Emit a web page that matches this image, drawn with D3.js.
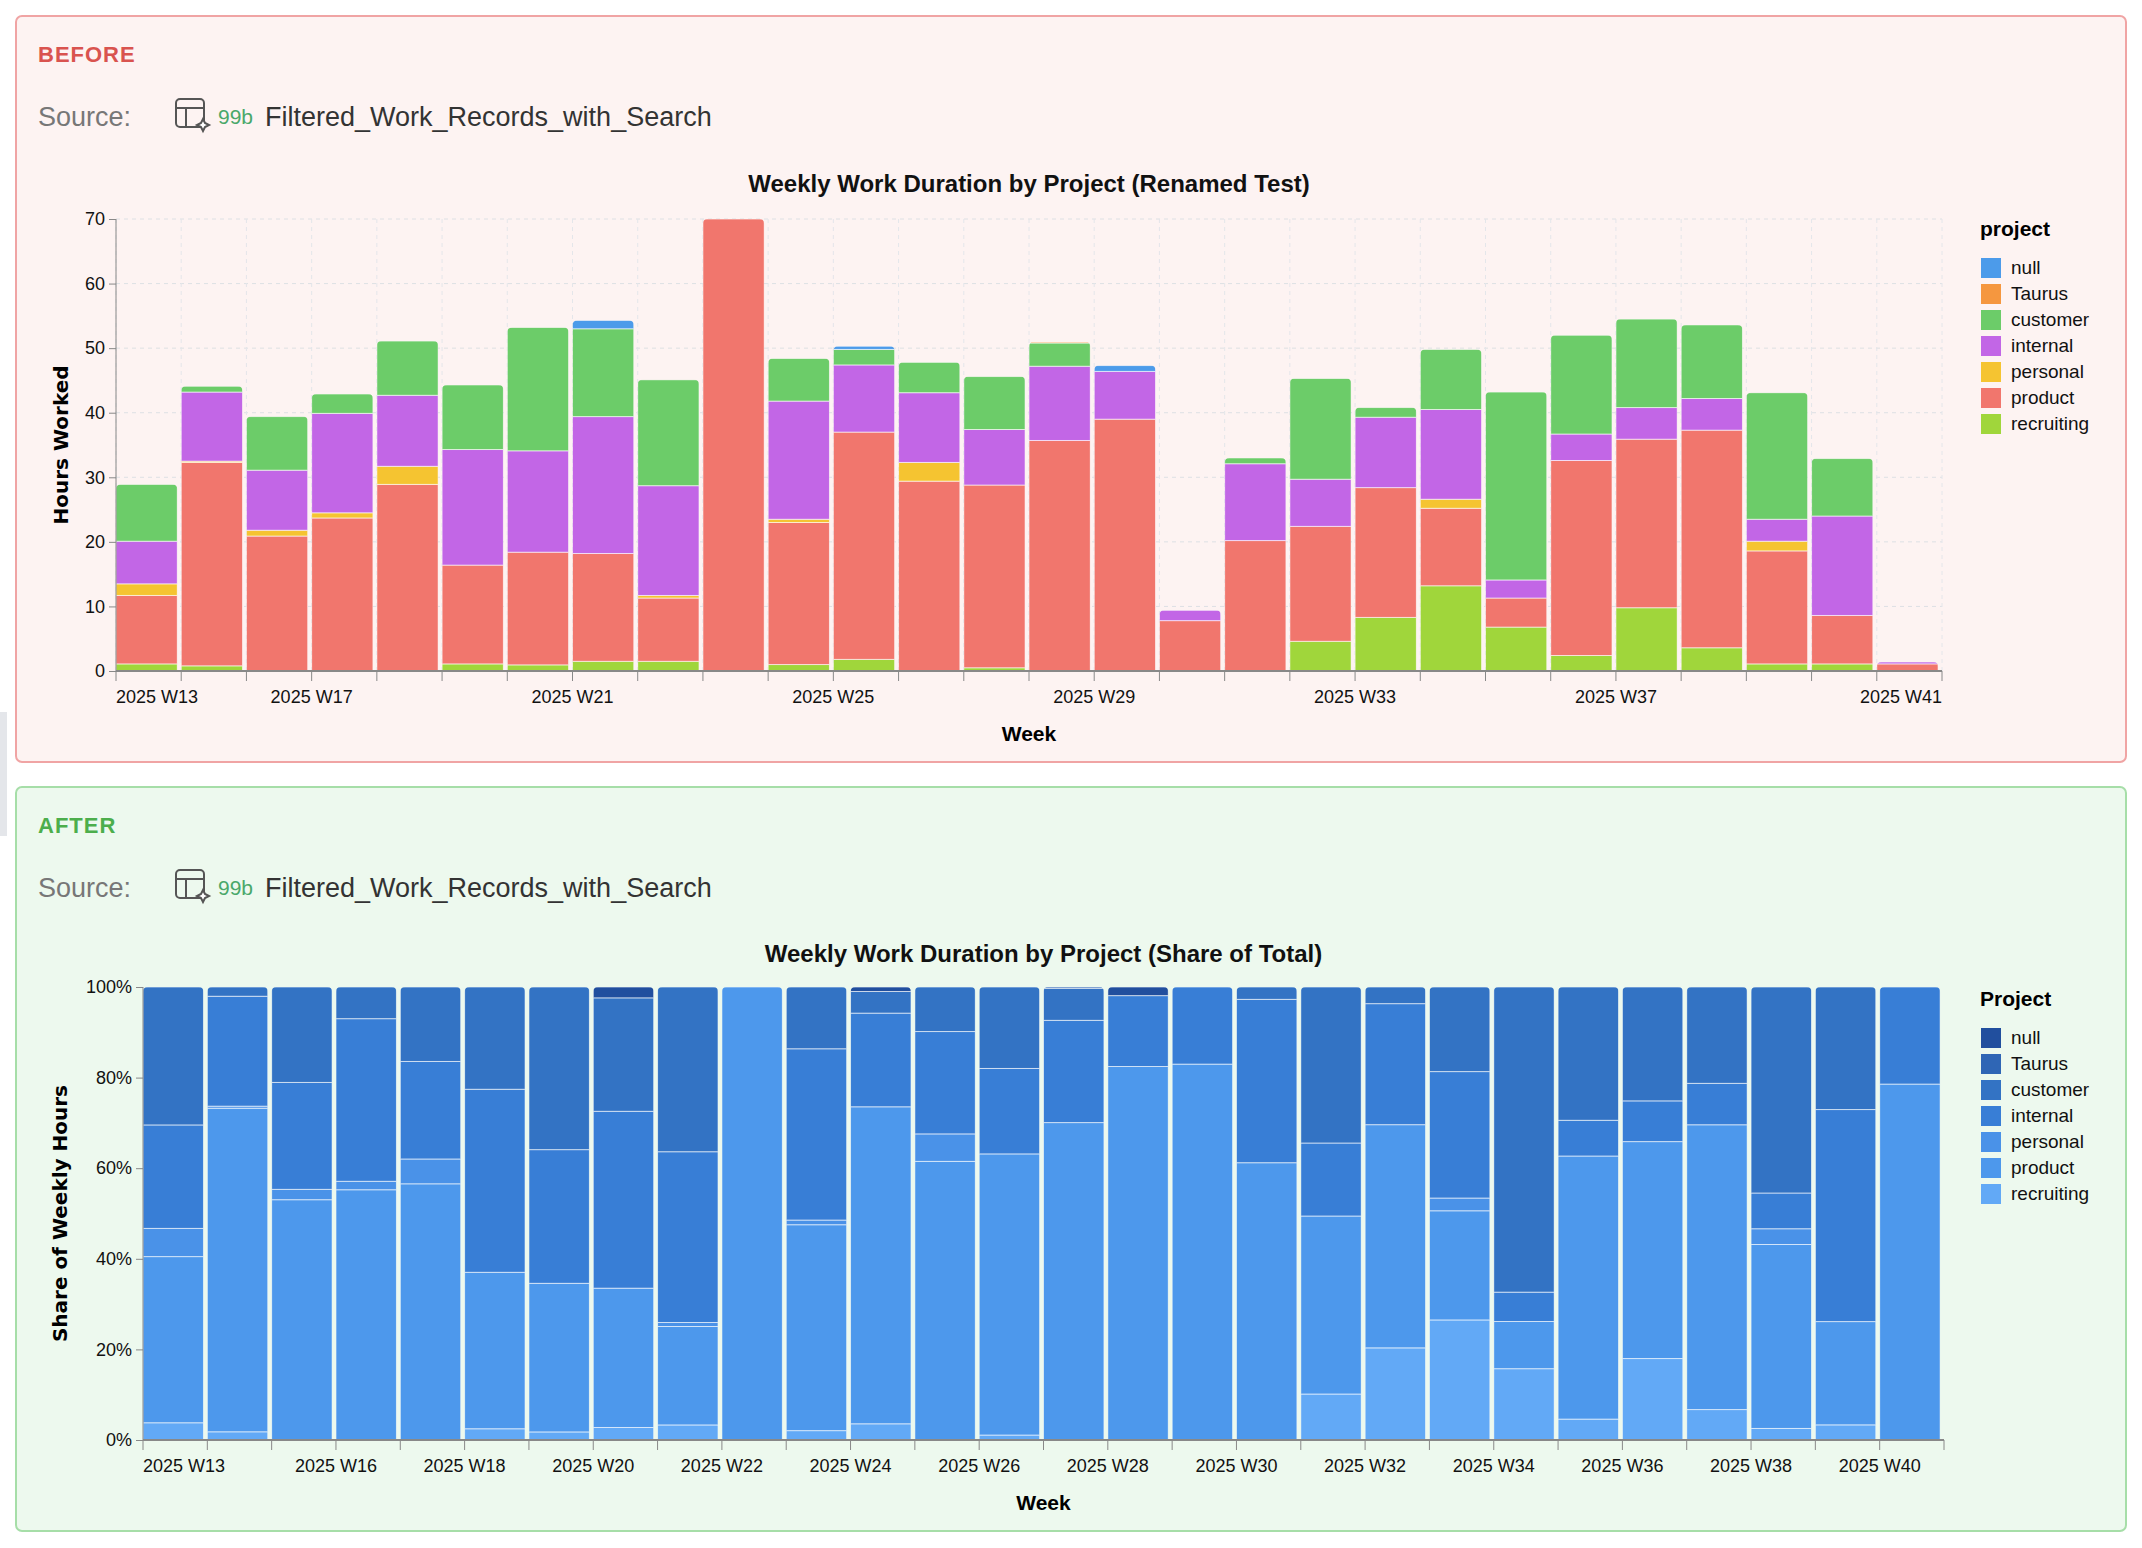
<!DOCTYPE html>
<html><head><meta charset="utf-8">
<script src="https://cdn.jsdelivr.net/npm/d3@7"></script>
<style>
body{margin:0;background:#fff;font-family:"Liberation Sans",Arial,sans-serif;}
svg{display:block}
</style></head>
<body><svg id="chart" width="2142" height="1548"></svg>
<script>
// stack order bottom -> top
const projects = ['recruiting','product','personal','internal','customer','Taurus','null'];
const legendOrder = ['null','Taurus','customer','internal','personal','product','recruiting'];
const weeksBottom = ['2025 W13','2025 W14','2025 W15','2025 W16','2025 W17','2025 W18','2025 W19','2025 W20','2025 W21','2025 W22',
  '2025 W23','2025 W24','2025 W25','2025 W26','2025 W27','2025 W28','2025 W29','2025 W30','2025 W31','2025 W32',
  '2025 W33','2025 W34','2025 W35','2025 W36','2025 W37','2025 W38','2025 W39','2025 W40'];
const topTickIdx = [0,3,7,11,15,19,23,27];
const topTickLabels = ['2025 W13','2025 W17','2025 W21','2025 W25','2025 W29','2025 W33','2025 W37','2025 W41'];
const bottomTickIdx = [0,3,5,7,9,11,13,15,17,19,21,23,25,27];

const recruiting = [1.1,0.8,0,0,0,1.1,0.95,1.5,1.5,0,1.0,1.8,0,0.5,0,0,0,0,4.6,8.3,13.2,6.8,2.4,9.8,3.6,1.1,1.1,0];
const product = [10.6,31.5,20.9,23.7,28.9,15.3,17.45,16.7,9.8,70,22.0,35.2,29.4,28.3,35.7,39.0,7.8,20.2,17.8,20.1,12.0,4.5,30.2,26.1,33.7,17.5,7.5,1.1];
const personal = [1.8,0.2,0.9,0.8,2.8,0,0,0,0.4,0,0.5,0,2.9,0,0,0,0,0,0,0,1.4,0,0,0,0,1.5,0,0];
const internal = [6.6,10.7,9.3,15.4,11.0,17.9,15.7,21.2,17.0,0,18.3,10.4,10.8,8.6,11.5,7.4,1.6,11.9,7.3,10.9,13.9,2.8,4.1,4.9,4.9,3.4,15.4,0.3];
const customer = [8.8,0.9,8.3,3.0,8.4,10.0,19.1,13.6,16.4,0,6.6,2.4,4.7,8.2,3.6,0,0,0.9,15.6,1.5,9.3,29.1,15.3,13.7,11.4,19.6,8.9,0];
const taurus = [0,0,0,0,0,0,0,0,0,0,0,0,0,0,0.15,0,0,0,0,0,0,0,0,0,0,0,0,0];
const nullHours = [0,0,0,0,0,0,0,1.3,0,0,0,0.5,0,0,0,0.9,0,0,0,0,0,0,0,0,0,0,0,0];

const colorsBefore = {null:'#4c9bea',Taurus:'#f5973f',customer:'#6ccc69',internal:'#c266e6',personal:'#f5c431',product:'#f1766d',recruiting:'#a0d63b'};
const colorsAfter = {null:'#214f9e',Taurus:'#2f66b5',customer:'#3373c4',internal:'#387ed6',personal:'#4a92e8',product:'#4d98ec',recruiting:'#62a9f6'};

const rows = weeksBottom.map((w,i)=>({week:w,recruiting:recruiting[i],product:product[i],personal:personal[i],
  internal:internal[i],customer:customer[i],Taurus:taurus[i],null:nullHours[i]}));

const svg = d3.select('#chart');

function panel(y, h, bg, border, label, labelColor){
  svg.append('rect').attr('x',16).attr('y',y).attr('width',2110).attr('height',h).attr('rx',6)
    .attr('fill',bg).attr('stroke',border).attr('stroke-width',2);
  svg.append('text').attr('x',38).attr('y',y+46).attr('fill',labelColor).style('font-size','22px')
    .style('font-weight','bold').style('letter-spacing','1px').text(label);
  const sy = y+110;
  svg.append('text').attr('x',38).attr('y',sy).attr('fill','#777').style('font-size','27px').text('Source:');
  // table icon
  const g = svg.append('g').attr('transform',`translate(176,${sy-27})`).attr('fill','none').attr('stroke','#555').attr('stroke-width',2);
  g.append('rect').attr('x',0).attr('y',0).attr('width',28).attr('height',28).attr('rx',4);
  g.append('line').attr('x1',0).attr('y1',9).attr('x2',28).attr('y2',9);
  g.append('line').attr('x1',10).attr('y1',9).attr('x2',10).attr('y2',28);
  g.append('path').attr('d','M27 20 l2 4 l4 2 l-4 2 l-2 4 l-2 -4 l-4 -2 l4 -2 z').attr('fill','#fff');
  svg.append('text').attr('x',218).attr('y',sy-2).attr('fill','#4aa86a').style('font-size','21px').text('99b');
  svg.append('text').attr('x',265).attr('y',sy).attr('fill','#333').style('font-size','27px').text('Filtered_Work_Records_with_Search');
}

panel(16, 746, '#fdf3f2', '#f0a4a4', 'BEFORE', '#d9534f');
panel(787, 744, '#edf9ee', '#a6dea8', 'AFTER', '#4cae4c');
svg.append('rect').attr('x',0).attr('y',712).attr('width',7).attr('height',124).attr('fill','#e4e6ea');

function chart(o){
  const x = d3.scaleBand().domain(weeksBottom).range([o.x0,o.x1]).paddingInner(0.06).paddingOuter(0.03).align(0);
  const step = x.step();
  const edge = i => o.x0 + i*step;
  const y = d3.scaleLinear().domain(o.domain).range([o.yb,o.yt]);
  const stack = d3.stack().keys(projects);
  if (o.normalize) stack.offset(d3.stackOffsetExpand);
  const series = stack(rows);
  const g = svg.append('g');

  svg.append('text').attr('x',(o.x0+o.x1)/2).attr('y',o.titleY).attr('text-anchor','middle')
    .style('font-size','24px').style('font-weight','bold').attr('fill','#111').text(o.title);

  if (o.grid){
    y.ticks(7).forEach(t=>g.append('line').attr('x1',o.x0).attr('x2',o.x1).attr('y1',y(t)).attr('y2',y(t))
      .attr('stroke','#dde0e4').attr('stroke-dasharray','4,4'));
    d3.range(weeksBottom.length+1).forEach(i=>g.append('line').attr('x1',edge(i)).attr('x2',edge(i))
      .attr('y1',o.yt).attr('y2',o.yb).attr('stroke','#e4e6ea').attr('stroke-dasharray','4,4'));
  }

  // rounded-top clip per bar
  const defs = svg.append('defs');
  rows.forEach((r,i)=>{
    const top = d3.max(series, s=>s[i][1]);
    const bx = x(r.week), bw = x.bandwidth(), ty = y(top), rr = 5;
    defs.append('clipPath').attr('id',`${o.id}c${i}`).append('path')
      .attr('d',`M${bx},${o.yb+2} L${bx},${ty+rr} Q${bx},${ty} ${bx+rr},${ty} L${bx+bw-rr},${ty} Q${bx+bw},${ty} ${bx+bw},${ty+rr} L${bx+bw},${o.yb+2} Z`);
  });
  series.forEach(s=>{
    g.selectAll(null).data(s.filter(d=>d[1]-d[0]>0)).enter().append('rect')
      .attr('x',d=>x(d.data.week)).attr('width',x.bandwidth())
      .attr('y',d=>y(d[1])).attr('height',d=>y(d[0])-y(d[1]))
      .attr('fill',o.colors[s.key]).attr('stroke','#ffffff').attr('stroke-opacity',0.6).attr('stroke-width',1)
      .attr('clip-path',d=>`url(#${o.id}c${rows.indexOf(d.data)})`);
  });

  // y axis
  const ya = svg.append('g').attr('transform',`translate(${o.x0},0)`)
    .call(d3.axisLeft(y).ticks(o.normalize?5:7).tickFormat(o.normalize?d3.format('.0%'):d3.format('d')).tickSize(7).tickPadding(4));
  ya.selectAll('text').style('font-size','18px').attr('fill','#111').style('font-family','"Liberation Sans Narrow","Liberation Sans",sans-serif');
  ya.selectAll('line,path').attr('stroke','#888');
  ya.select('.domain').attr('d',`M0,${o.yb}V${o.yt}`);

  // x axis
  const xa = svg.append('g').attr('transform',`translate(0,${o.yb})`);
  xa.append('line').attr('x1',o.x0).attr('x2',o.x1).attr('stroke','#888').attr('stroke-width',2);
  d3.range(weeksBottom.length+1).forEach(i=>xa.append('line').attr('x1',edge(i)).attr('x2',edge(i)).attr('y2',10).attr('stroke','#888'));
  o.ticks.forEach((idx,k)=>{
    const anchor = k===0 ? 'start' : (o.lastEnd && k===o.ticks.length-1 ? 'end' : 'middle');
    const tx = (anchor==='end') ? o.x1 : edge(idx);
    xa.append('text').attr('x',tx).attr('y',32).attr('text-anchor',anchor).attr('fill','#111')
      .style('font-size','18px').style('font-family','"Liberation Sans Narrow","Liberation Sans",sans-serif').text(o.tickLabels[k]);
  });
  svg.append('text').attr('x',(o.x0+o.x1)/2).attr('y',o.yb+70).attr('text-anchor','middle')
    .style('font-size','21px').style('font-weight','bold').text('Week');
  svg.append('text').attr('transform',`translate(${o.yTitleX},${(o.yt+o.yb)/2}) rotate(-90)`).attr('text-anchor','middle')
    .style('font-size','20px').style('font-weight','bold').style('font-family','"DejaVu Sans",sans-serif').text(o.yTitle);

  // legend
  const lg = svg.append('g').attr('transform',`translate(1980,${o.legY})`);
  lg.append('text').attr('y',0).style('font-size','21px').style('font-weight','bold').text(o.legTitle);
  legendOrder.forEach((p,i)=>{
    const ly = 32 + i*26;
    lg.append('rect').attr('x',1).attr('y',ly-10).attr('width',20).attr('height',20).attr('fill',o.colors[p]);
    lg.append('text').attr('x',31).attr('y',ly+6).style('font-size','19px').attr('fill','#111').text(p);
  });
}

chart({id:'b',x0:116,x1:1942,yt:219,yb:671,domain:[0,70],normalize:false,colors:colorsBefore,grid:true,
  title:'Weekly Work Duration by Project (Renamed Test)',titleY:192,ticks:topTickIdx,tickLabels:topTickLabels,lastEnd:true,
  yTitle:'Hours Worked',yTitleX:68,legTitle:'project',legY:236});
chart({id:'a',x0:143,x1:1944,yt:987,yb:1440,domain:[0,1],normalize:true,colors:colorsAfter,grid:false,
  title:'Weekly Work Duration by Project (Share of Total)',titleY:962,ticks:bottomTickIdx,tickLabels:bottomTickIdx.map(i=>weeksBottom[i]),lastEnd:false,
  yTitle:'Share of Weekly Hours',yTitleX:67,legTitle:'Project',legY:1006});
</script></body></html>
